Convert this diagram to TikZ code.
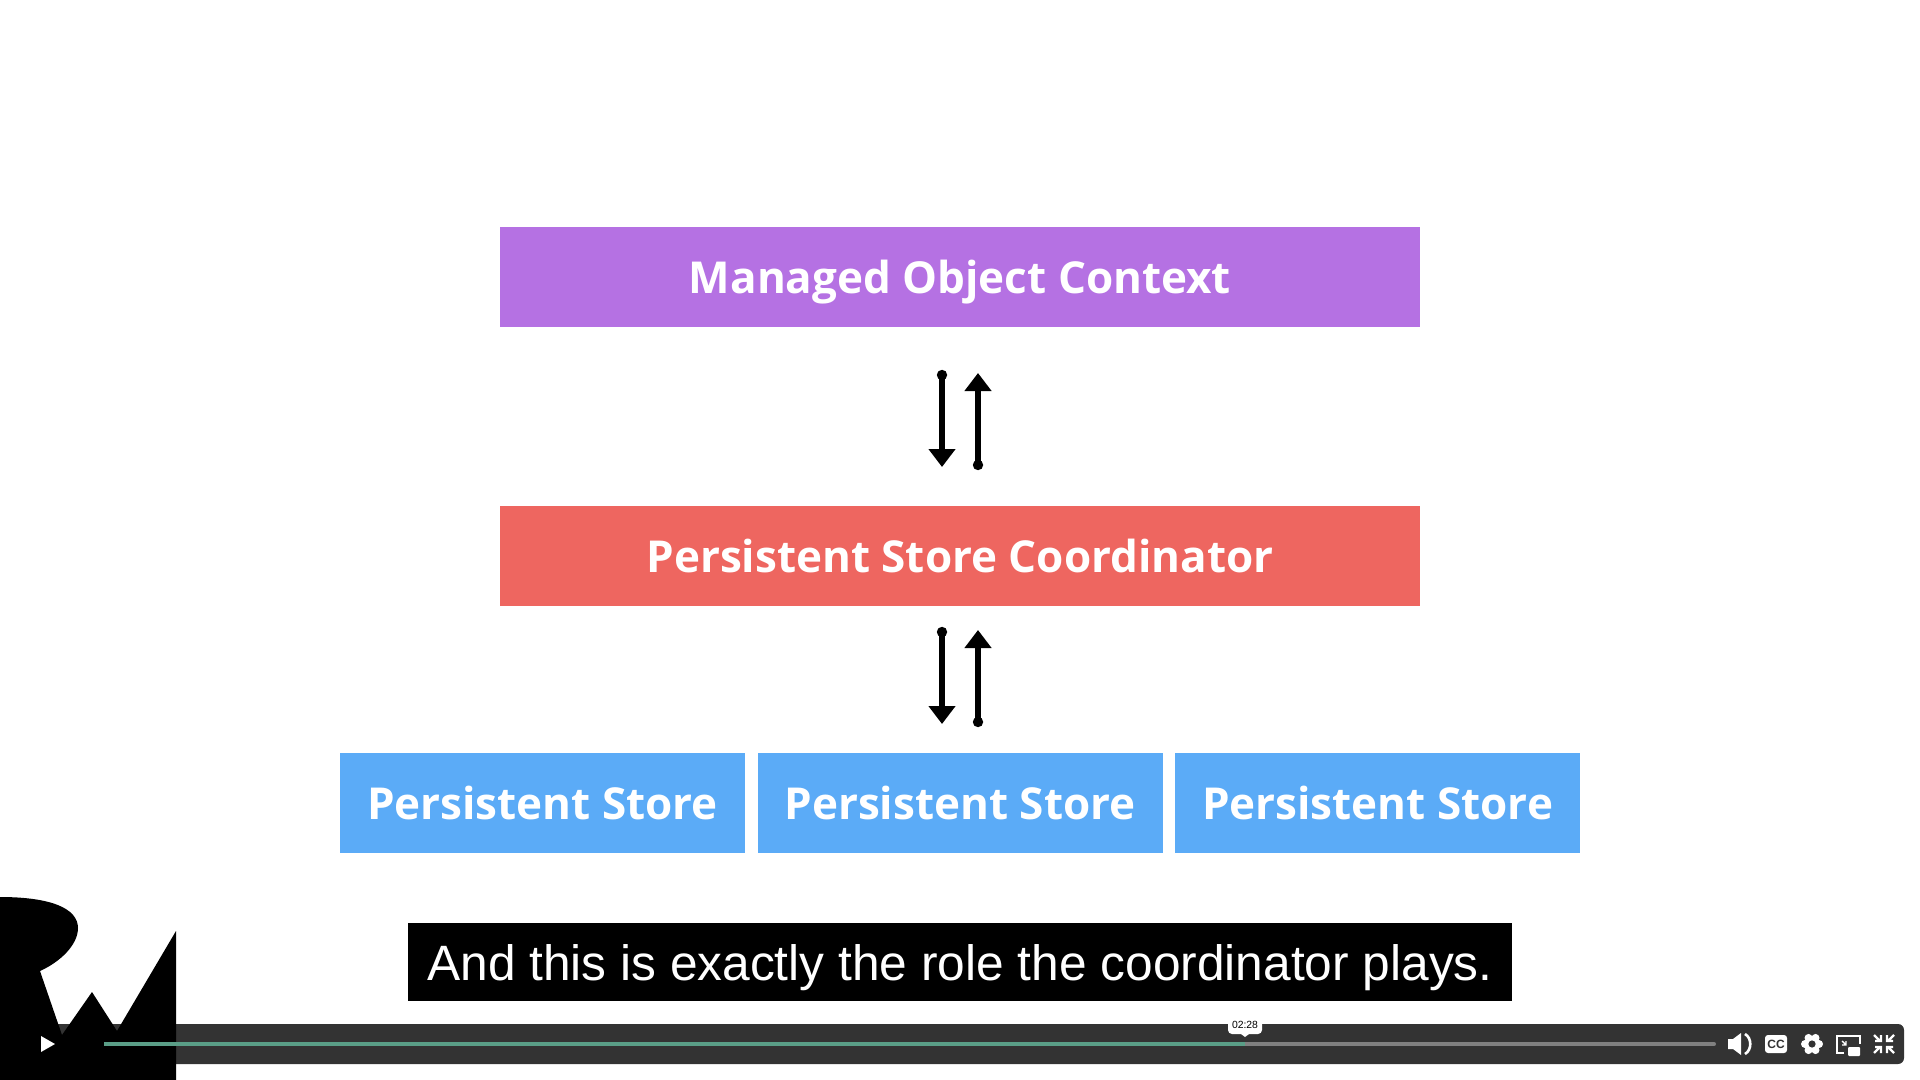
\documentclass[tikz,border=0pt]{standalone}
\usepackage{fontspec}
\setmainfont{Open Sans}
\newfontfamily\capfont{Liberation Sans}
\usetikzlibrary{arrows.meta}
\definecolor{ctxpurple}{HTML}{B571E3}
\definecolor{crdred}{HTML}{EE6660}
\definecolor{storeblue}{HTML}{5BABF7}
\definecolor{barback}{HTML}{333333}
\definecolor{bargreen}{HTML}{5A9E87}
\definecolor{bargrey}{HTML}{808080}
\tikzset{every picture/.style={x=0.5pt,y=-0.5pt}}
\tikzset{layer/.style={inner sep=0pt, text=white, font=\bfseries\fontsize{22}{26}\selectfont, minimum height=50pt, text height=16.6pt, text depth=0pt}}
\tikzset{wide/.style={layer, minimum width=460pt}}
\tikzset{store/.style={layer, fill=storeblue, minimum width=202.5pt}}
\tikzset{flow/.style={line width=3pt, {Circle[length=5pt]}-{Triangle[length=9pt,width=13pt]}}}

\begin{document}
\begin{tikzpicture}
\useasboundingbox (0,0) rectangle (1920,1080);
\fill[white] (0,0) rectangle (1920,1080);
\node[wide, fill=ctxpurple] (context) at (960,276.7) {Managed Object Context};
\node[wide, fill=crdred] (coord) at (960,556) {Persistent Store Coordinator};
\node[store] (store1) at (542.5,803) {Persistent Store};
\node[store] (store2) at (960,803) {Persistent Store};
\node[store] (store3) at (1377.5,803) {Persistent Store};
% arrows
\coordinate (a1) at (942,370);
\coordinate (b1) at (942,467);
\coordinate (c1) at (978,470);
\coordinate (d1) at (978,373);
\coordinate (a2) at (942,627);
\coordinate (b2) at (942,724);
\coordinate (c2) at (978,727);
\coordinate (d2) at (978,630);
\draw[flow] (a1) -- (b1);
\draw[flow] (c1) -- (d1);
\draw[flow] (a2) -- (b2);
\draw[flow] (c2) -- (d2);
% caption
\node[fill=black, text=white, inner sep=0pt, minimum width=552pt, minimum height=39pt, text height=18pt, text depth=0pt, font=\capfont\fontsize{24.83}{28}\selectfont] (caption) at (960,962) {And this is exactly the role the coordinator plays.};
% player bar
\fill[barback, rounded corners=3pt] (40,1024) rectangle (1904,1064);
\fill[black] (0,897) .. controls (50,897) and (78,908) .. (78,928) .. controls (78,945) and (60,962) .. (40,971) -- (62,1035) -- (92,992) -- (117,1031) -- (176,931) -- (176,1080) -- (0,1080) -- cycle;
\fill[white] (41,1036) -- (55,1044) -- (41,1052) -- cycle;
\draw[bargrey, line width=2pt, line cap=round] (1245,1044) -- (1714,1044);
\draw[bargreen, line width=2pt] (104,1044) -- (1245,1044);
% time label
\fill[white, rounded corners=2pt] (1228,1020) rectangle (1262,1034);
\fill[white] (1241,1034) -- (1245,1037) -- (1249,1034) -- cycle;
\node[inner sep=0pt, text=black, font=\capfont\fontsize{5.2}{6}\selectfont] (time) at (1245,1025) {02:28};
% icons
\fill[white] (1728,1039) -- (1733,1039) -- (1741,1033) -- (1741,1055) -- (1733,1049) -- (1728,1049) -- cycle;
\draw[white, line width=1.3pt] (1745,1034) .. controls (1752,1038) and (1752,1050) .. (1745,1054);
\fill[white, rounded corners=1.5pt] (1765,1035) rectangle (1787,1053);
\node[inner sep=0pt, text=barback, font=\capfont\bfseries\fontsize{6}{6}\selectfont] (cc) at (1776,1044) {CC};
\foreach \a in {0,60,...,300}
  \fill[white] (1812,1044) ++(\a:7) circle (2pt);
\fill[white] (1812,1044) circle (4pt);
\fill[barback] (1812,1044) circle (1.8pt);
\draw[white, line width=0.8pt] (1844,1053) -- (1837,1053) -- (1837,1036) -- (1860,1036) -- (1860,1044);
\fill[white, rounded corners=0.5pt] (1848,1047) rectangle (1860,1056);
\draw[white, line width=0.7pt] (1842,1041) -- (1846,1045) (1846,1041) -- (1846,1045) -- (1842,1045);
\foreach \sx/\sy in {-1/-1,1/-1,-1/1,1/1}
  \draw[white, line width=1.2pt] (1884+\sx*10,1044+\sy*9) -- (1884+\sx*4,1044+\sy*3) (1884+\sx*9,1044+\sy*3) -- (1884+\sx*3,1044+\sy*3) -- (1884+\sx*3,1044+\sy*9);
\end{tikzpicture}
\end{document}
